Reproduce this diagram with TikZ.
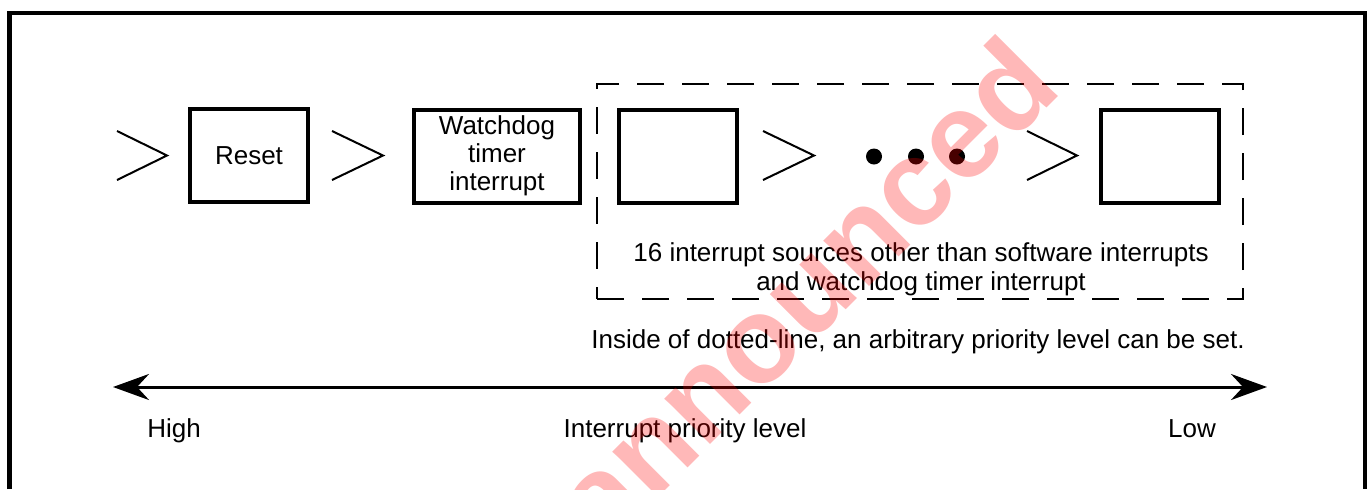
\documentclass[tikz,border=0pt]{standalone}
\usepackage{fontspec}
\setmainfont{Liberation Sans}
\usetikzlibrary{arrows.meta}
\begin{document}
\begin{tikzpicture}[x=0.5pt,y=-0.5pt,
  txt/.style={font=\fontsize{13}{14.6}\selectfont, inner sep=0pt, align=center},
  prbox/.style={draw, line width=2pt, minimum height=46.5pt, inner sep=0pt, font=\fontsize{13}{14.5}\selectfont, align=center},
  chev/.style={line width=1pt, line join=miter},
  dashbox/.style={draw, line width=1pt, dash pattern=on 13.5pt off 9pt, minimum width=323pt, minimum height=107.5pt, inner sep=0pt},
  dot/.style={fill, circle, inner sep=0pt, minimum size=8pt},
  wmark/.style={text=red, text opacity=0.28, rotate=45, inner sep=0pt, font=\fontsize{61}{61}\selectfont\bfseries}]
\useasboundingbox (0,0) rectangle (1372,489);
\fill[white] (0,0) rectangle (1372,489);
% outer frame
\draw[line width=2.4pt, line join=miter] (9.5,489) -- (9.5,13) -- (1365,13) -- (1365,489);
% dashed region
\node[dashbox] (grp) at (920,191.5) {};
% boxes
\node[prbox, minimum width=59pt] (reset) at (249,155.5) {Reset};
\node[prbox, minimum width=83pt] (wdt) at (497,156) {Watchdog\\[-0.5pt]timer\\[-0.5pt]interrupt};
\node[prbox, minimum width=59pt] (b3) at (678,156) {};
\node[prbox, minimum width=59pt] (b4) at (1160,156) {};
% chevrons
\draw[chev] (117,131) -- (167,155.5) -- (117,180);
\draw[chev] (332,131) -- (383,155.5) -- (332,180);
\draw[chev] (763,131) -- (814,155.5) -- (763,180);
\draw[chev] (1027,131) -- (1077,155.5) -- (1027,180);
% dots
\node[dot] (d1) at (874,156.5) {};
\node[dot] (d2) at (916,156.5) {};
\node[dot] (d3) at (957,156.5) {};
% texts
\node[txt] (grptxt) at (921,269) {16 interrupt sources other than software interrupts\\and watchdog timer interrupt};
\node[txt, anchor=base] (note) at (918,348) {Inside of dotted-line, an arbitrary priority level can be set.};
% priority axis
\coordinate (hi) at (113,387);
\coordinate (lo) at (1267,387);
\draw[line width=1.5pt, {Stealth[length=18pt,width=13pt,inset=6pt]}-{Stealth[length=18pt,width=13pt,inset=6pt]}] (hi) -- (lo);
\node[txt, anchor=base] (high) at (174,437) {High};
\node[txt, anchor=base] (axis) at (685,437) {Interrupt priority level};
\node[txt, anchor=base] (low) at (1192,437) {Low};
% watermark
\begin{scope}
\clip (0,0) rectangle (1372,489);
\node[wmark] (wm) at (746,348) {Unannounced};
\end{scope}
\end{tikzpicture}
\end{document}
